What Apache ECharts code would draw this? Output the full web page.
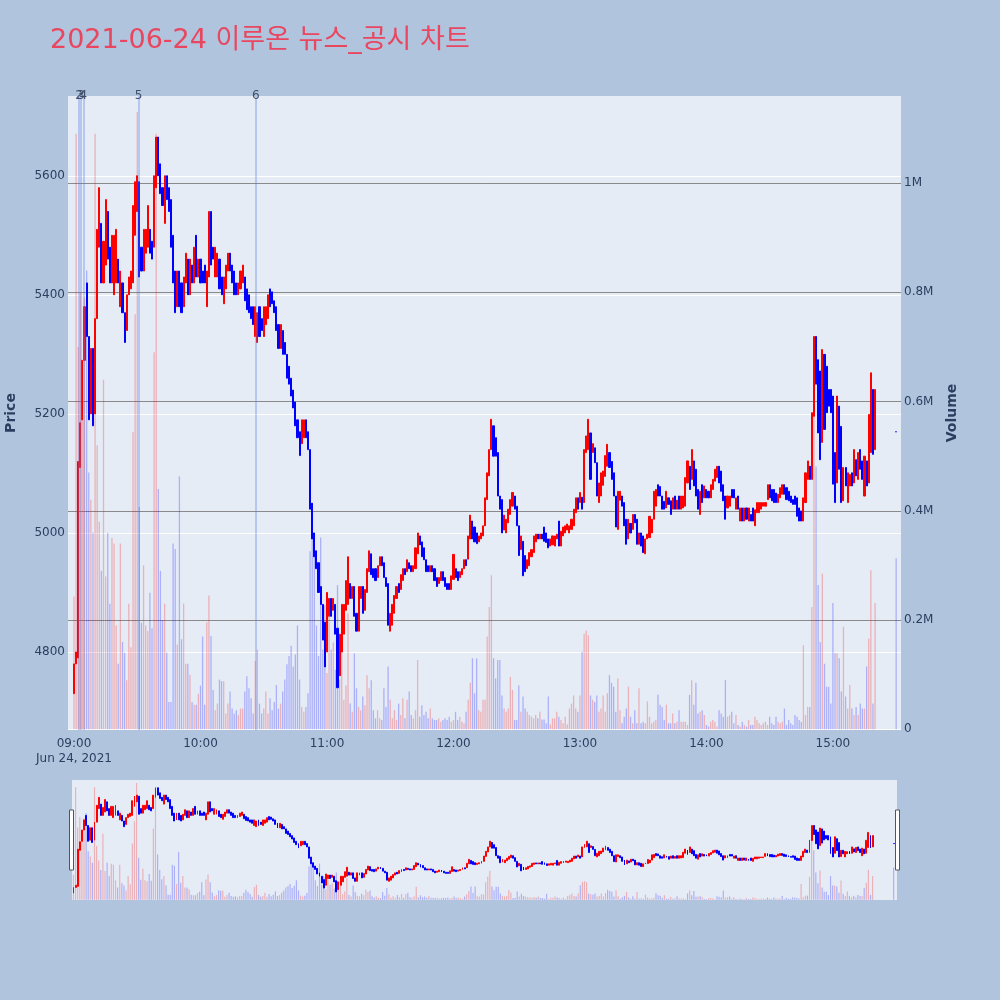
<!DOCTYPE html>
<html><head><meta charset="utf-8">
<script src="https://cdn.jsdelivr.net/npm/echarts@6/dist/echarts.min.js"></script>
<style>html,body{margin:0;padding:0;background:#b0c4de}#c{width:1000px;height:1000px}</style>
</head><body><div id="c"></div>
<script>
// one candle per minute from 09:00 (index = minutes after 09:00); last entry = 15:30 closing auction
const openPrice = [
4730,4780,4790,5110,5190,5290,5420,5330,5200,5310,5200,5360,5480,5520,5420,5450,5540,5480,5420,5400,
5420,5460,5380,5420,5370,5340,5400,5410,5420,5500,5540,5590,5480,5440,5470,5480,5510,5490,5480,5580,
5665,5620,5580,5520,5600,5580,5560,5500,5440,5380,5440,5420,5380,5420,5460,5400,5450,5420,5500,5430,
5460,5440,5450,
5380,5430,5540,5480,5430,5430,5460,5430,5385,5410,5440,5470,5450,5440,5420,5400,5410,5420,5430,5410,
5400,5380,5380,5330,5320,5380,5360,5330,5350,5360,5410,5405,5390,5380,5350,5310,5340,5320,5300,5280,
5260,5240,5220,5190,5170,5150,5160,5190,5170,5140,5050,5000,4970,4950,4910,4880,4850,4800,4860,4890,
4870,4880,4840,4760,4800,
4830,4870,4880,4915,4890,4910,4865,4835,4890,4910,4870,4900,4935,4965,4940,4940,4925,4945,4960,4950,
4925,4915,4835,4845,4865,4890,4915,4905,4920,4940,4935,4950,4945,4935,4940,4965,4995,4985,4975,4955,
4945,4935,4945,4940,4925,4915,4920,4935,4925,4915,4915,4905,4922,4940,4935,4925,4930,4940,4955,4956,
4990,5020,5010,5000,4985,
4990,4995,5012,5056,5096,5140,5180,5160,5135,5062,5056,5005,5000,5017,5031,5045,5062,5045,5012,4972,
4986,4962,4940,4945,4960,4967,4985,4998,4990,4998,5010,5000,4990,4978,4980,4978,4990,5020,4978,4995,
5000,5005,5000,5006,5012,5034,5059,5051,5060,5051,5135,5140,5168,5135,5143,5118,5051,5062,5080,5095,
5112,5135,5120,5101,
5062,5006,5055,5062,5051,5023,4990,5016,5006,5031,5023,4981,5000,4995,4965,4990,4992,5000,5023,5045,
5081,5078,5062,5053,5042,5059,5054,5040,5062,5040,5062,5040,5042,5045,5084,5112,5090,5121,5107,5073,
5031,5081,5059,5073,5070,5059,5073,5087,5093,5112,5104,5081,5062,5042,5045,5073,5073,5040,5062,5020,
5042,5020,5042,5020,5031,
5042,5012,5034,5034,5040,5045,5045,5056,5081,5073,5073,5067,5051,5059,5065,5081,5076,5070,5062,5056,
5062,5059,5042,5037,5020,5051,5090,5112,5090,5196,5330,5291,5272,5152,5300,5280,5241,5241,5230,5135,
5084,5213,5179,5054,5110,5051,5079,5101,5084,5123,5090,5140,5121,5062,5121,5084,5135,5241,5140,
5170];
const closePrice = [
4780,4800,5120,5185,5290,5380,5330,5190,5310,5180,5360,5510,5580,5420,5490,5560,5460,5420,5500,5500,
5510,5420,5440,5370,5320,5400,5430,5440,5550,5590,5600,5430,5440,5510,5510,5550,5470,5460,5600,5665,
5600,5570,5550,5600,5560,5540,5480,5420,5370,5440,5380,5370,5430,5470,5400,5460,5420,5480,5430,5460,
5420,5420,5420,
5440,5540,5450,5460,5480,5470,5410,5400,5430,5450,5470,5440,5420,5400,5400,5420,5440,5450,5390,5375,
5370,5360,5350,5380,5370,5330,5340,5380,5380,5400,5380,5385,5370,5340,5310,5350,5300,5300,5260,5250,
5230,5210,5180,5160,5130,5190,5190,5160,5140,5040,4990,4960,4940,4900,4880,4820,4775,4900,4890,4860,
4890,4830,4740,4830,4880,
4880,4920,4960,4890,4910,4860,4835,4910,4910,4865,4905,4940,4970,4930,4925,4920,4945,4960,4945,4925,
4910,4845,4865,4880,4895,4910,4900,4930,4940,4930,4955,4940,4935,4945,4975,5000,4980,4960,4955,4935,
4935,4945,4935,4920,4910,4925,4935,4920,4910,4905,4905,4928,4964,4925,4920,4935,4940,4955,4945,4995,
5030,4990,4985,4982,4995,
5000,5012,5059,5101,5140,5191,5129,5129,5062,5040,5000,5030,5023,5040,5056,5068,5040,5012,4962,4995,
4928,4935,4955,4967,4972,4995,4998,4990,4998,4990,4986,4984,4975,4990,4995,4995,4998,4978,5003,5010,
5012,5015,5012,5023,5040,5059,5040,5068,5040,5140,5163,5191,5090,5150,5118,5062,5084,5101,5104,5130,
5149,5110,5090,5062,
5010,5070,5070,5045,5012,4981,5023,5000,5031,5017,4981,5000,4978,4967,4990,4998,5028,5023,5070,5073,
5062,5062,5040,5040,5070,5048,5031,5059,5040,5055,5040,5062,5062,5093,5121,5073,5140,5079,5062,5040,
5070,5051,5079,5059,5059,5081,5090,5107,5112,5084,5070,5054,5023,5062,5062,5059,5059,5059,5040,5042,
5020,5042,5023,5042,5020,
5020,5039,5051,5051,5051,5051,5051,5081,5059,5054,5051,5051,5065,5076,5081,5065,5056,5054,5051,5048,
5048,5028,5020,5020,5059,5101,5121,5090,5202,5330,5250,5168,5123,5308,5174,5202,5213,5202,5082,5051,
5230,5107,5051,5110,5079,5101,5098,5079,5140,5096,5135,5107,5090,5129,5079,5199,5269,5132,5241,
5170];
// volume in thousands of shares
const volumeK = [
243,1090,700,800,600,790,840,470,420,360,1090,520,380,290,640,280,360,230,350,340,
190,120,340,160,140,90,230,150,544,760,1130,407,195,300,190,180,250,185,690,1090,
440,290,200,230,140,50,50,340,330,155,463,165,230,120,120,100,50,45,45,65,
80,170,45,
196,245,171,72,35,47,91,88,88,29,47,69,38,29,35,26,38,38,69,97,
75,57,29,125,146,47,29,38,69,29,57,35,50,81,38,47,69,91,119,134,
153,115,137,190,91,41,32,41,66,326,351,332,190,134,351,146,227,103,214,146,
159,109,264,91,165,
54,80,212,47,32,139,75,41,35,60,44,99,75,90,35,20,35,20,17,75,
41,115,54,20,35,17,47,26,57,20,54,69,26,20,35,127,23,44,26,32,
20,38,20,17,17,20,14,17,20,17,23,14,17,32,17,23,14,11,32,54,
85,130,66,130,35,
32,54,54,170,224,282,130,93,127,127,62,38,32,38,96,72,17,17,80,32,
60,38,32,26,23,20,26,20,32,18,18,11,60,9,20,20,32,23,17,11,
23,9,38,47,62,38,32,62,142,175,181,172,62,54,50,62,32,38,62,32,
66,99,85,78,
32,93,35,11,23,38,78,23,11,35,11,75,11,14,11,51,23,11,14,17,
63,45,41,17,45,11,11,29,11,14,35,14,14,14,8,63,90,45,85,29,
32,35,26,8,5,14,17,14,5,35,29,23,90,23,26,32,11,26,8,5,
14,8,5,17,8,
8,23,17,11,8,11,14,8,23,11,8,23,14,11,14,38,8,17,11,8,
26,23,17,14,154,26,41,41,224,700,481,264,160,285,120,78,78,47,231,139,
139,130,69,188,60,38,81,38,26,41,26,47,38,38,115,166,291,47,231,
313];
const auctionMinute = 390;
const newsLabels = ['2', '3', '4', '5', '6'];
const newsMinutes = [2.4, 3.2, 4.4, 30.6, 86.2];
const timeTicks = [0, 60, 120, 180, 240, 300, 360];
const timeTickLabels = ['09:00', '10:00', '11:00', '12:00', '13:00', '14:00', '15:00'];
const dateLabel = 'Jun 24, 2021';
const priceTicks = [4800, 5000, 5200, 5400, 5600];
const volumeTicks = [0, 200000, 400000, 600000, 800000, 1000000];
const volumeTickLabels = ['0', '0.2M', '0.4M', '0.6M', '0.8M', '1M'];

const n = openPrice.length;
const candles = [], vols = [];
for (let i = 0; i < n; i++) {
  const m = (i === n - 1) ? auctionMinute : i;
  const o = openPrice[i], c = closePrice[i];
  const up = c > o;
  candles.push([m, o, c, Math.min(o, c), Math.max(o, c)]);
  vols.push({ value: [m, volumeK[i] * 1000],
    itemStyle: { color: up ? 'rgba(255,0,0,0.25)' : 'rgba(0,0,255,0.25)' } });
}
const FONT = 'DejaVu Sans, Verdana, sans-serif';
const LABEL = '#2a3f5f';
const P_MIN = 4669, P_MAX = 5734, V_MIN = -1300, V_MAX = 1159300;

const candleStyle = { color: '#ff0000', color0: '#0000ff', borderColor: '#ff0000', borderColor0: '#0000ff', borderWidth: 1 };

const chart = echarts.init(document.getElementById('c'), null, { renderer: 'canvas' });
chart.setOption({
  animation: false,
  backgroundColor: '#b0c4de',
  title: { text: '2021-06-24 이루온 뉴스_공시 차트', left: 45, top: 22,
    textStyle: { color: '#e8475f', fontSize: 27, fontWeight: 'normal', fontFamily: 'DejaVu Sans, Noto Sans CJK KR, sans-serif' } },
  grid: [
    { left: 68, right: 99, top: 96, height: 634, show: true, backgroundColor: '#e5ecf6', borderWidth: 0, outerBoundsMode: 'none', containLabel: false },
    { left: 72, right: 103, top: 780, height: 120, show: true, backgroundColor: '#e5ecf6', borderWidth: 0, outerBoundsMode: 'none', containLabel: false }
  ],
  xAxis: [
    { type: 'value', gridIndex: 0, min: -2.846, max: 392.3,
      axisLine: { show: false }, axisTick: { show: false, customValues: timeTicks }, splitLine: { show: false },
      axisLabel: { customValues: timeTicks, color: LABEL, fontSize: 12, fontFamily: FONT, margin: 6, lineHeight: 15,
        formatter: v => { const s = timeTickLabels[timeTicks.indexOf(v)]; return v === 0 ? s + '\n' + dateLabel : s; } } },
    { type: 'value', gridIndex: 1, min: -0.7, max: 391.6, show: false }
  ],
  yAxis: [
    { type: 'value', gridIndex: 0, position: 'left', min: P_MIN, max: P_MAX,
      axisLine: { show: false }, axisTick: { show: false, customValues: priceTicks },
      axisLabel: { customValues: priceTicks, color: LABEL, fontSize: 12, fontFamily: FONT, margin: 3, formatter: v => String(v) },
      splitLine: { show: true, lineStyle: { color: '#ffffff', width: 1 } },
      name: 'Price', nameLocation: 'middle', nameGap: 50, nameRotate: 90,
      nameTextStyle: { color: LABEL, fontSize: 14, fontWeight: 'bold', fontFamily: FONT } },
    { type: 'value', gridIndex: 0, position: 'right', min: V_MIN, max: V_MAX,
      axisLine: { show: false }, axisTick: { show: false, customValues: volumeTicks },
      axisLabel: { customValues: volumeTicks, color: LABEL, fontSize: 12, fontFamily: FONT, margin: 3,
        formatter: v => volumeTickLabels[volumeTicks.indexOf(v)] },
      splitLine: { show: true, lineStyle: { color: ['#ffffff', '#8a8a8a', '#8a8a8a', '#8a8a8a', '#8a8a8a', '#8a8a8a'], width: 1.2 } },
      name: 'Volume', nameLocation: 'middle', nameGap: 44, nameRotate: 90,
      nameTextStyle: { color: LABEL, fontSize: 14, fontWeight: 'bold', fontFamily: FONT } },
    { type: 'value', gridIndex: 1, min: P_MIN, max: P_MAX, show: false, splitLine: { show: false } },
    { type: 'value', gridIndex: 1, min: V_MIN, max: V_MAX, show: false, splitLine: { show: false } }
  ],
  series: [
    { type: 'candlestick', xAxisIndex: 0, yAxisIndex: 0, data: candles, barWidth: 1.6,
      encode: { x: 0, y: [1, 2, 3, 4] }, itemStyle: candleStyle, z: 2, silent: true },
    { type: 'bar', xAxisIndex: 0, yAxisIndex: 1, data: vols, barWidth: 1.3, z: 3, silent: true,
      markLine: { silent: true, symbol: ['none', 'none'], animation: false,
        lineStyle: { color: 'rgba(90,125,225,0.45)', width: 1.5, type: 'solid' },
        label: { show: true, position: 'end', formatter: '{b}', color: '#3f4f6b', fontSize: 12, fontFamily: FONT, distance: -6 },
        data: newsMinutes.map((m, i) => ({ name: newsLabels[i], xAxis: m })) } },
    { type: 'candlestick', xAxisIndex: 1, yAxisIndex: 2, data: candles, barWidth: 1.4,
      encode: { x: 0, y: [1, 2, 3, 4] }, itemStyle: candleStyle, z: 2, silent: true },
    { type: 'bar', xAxisIndex: 1, yAxisIndex: 3, data: vols, barWidth: 1.2, z: 3, silent: true }
  ],
  graphic: [
    { type: 'rect', shape: { x: 69.5, y: 810, width: 4, height: 60 }, style: { fill: '#ffffff', stroke: '#555', lineWidth: 1 }, z: 100 },
    { type: 'rect', shape: { x: 895.5, y: 810, width: 4, height: 60 }, style: { fill: '#ffffff', stroke: '#555', lineWidth: 1 }, z: 100 }
  ]
});
</script>
</body></html>
